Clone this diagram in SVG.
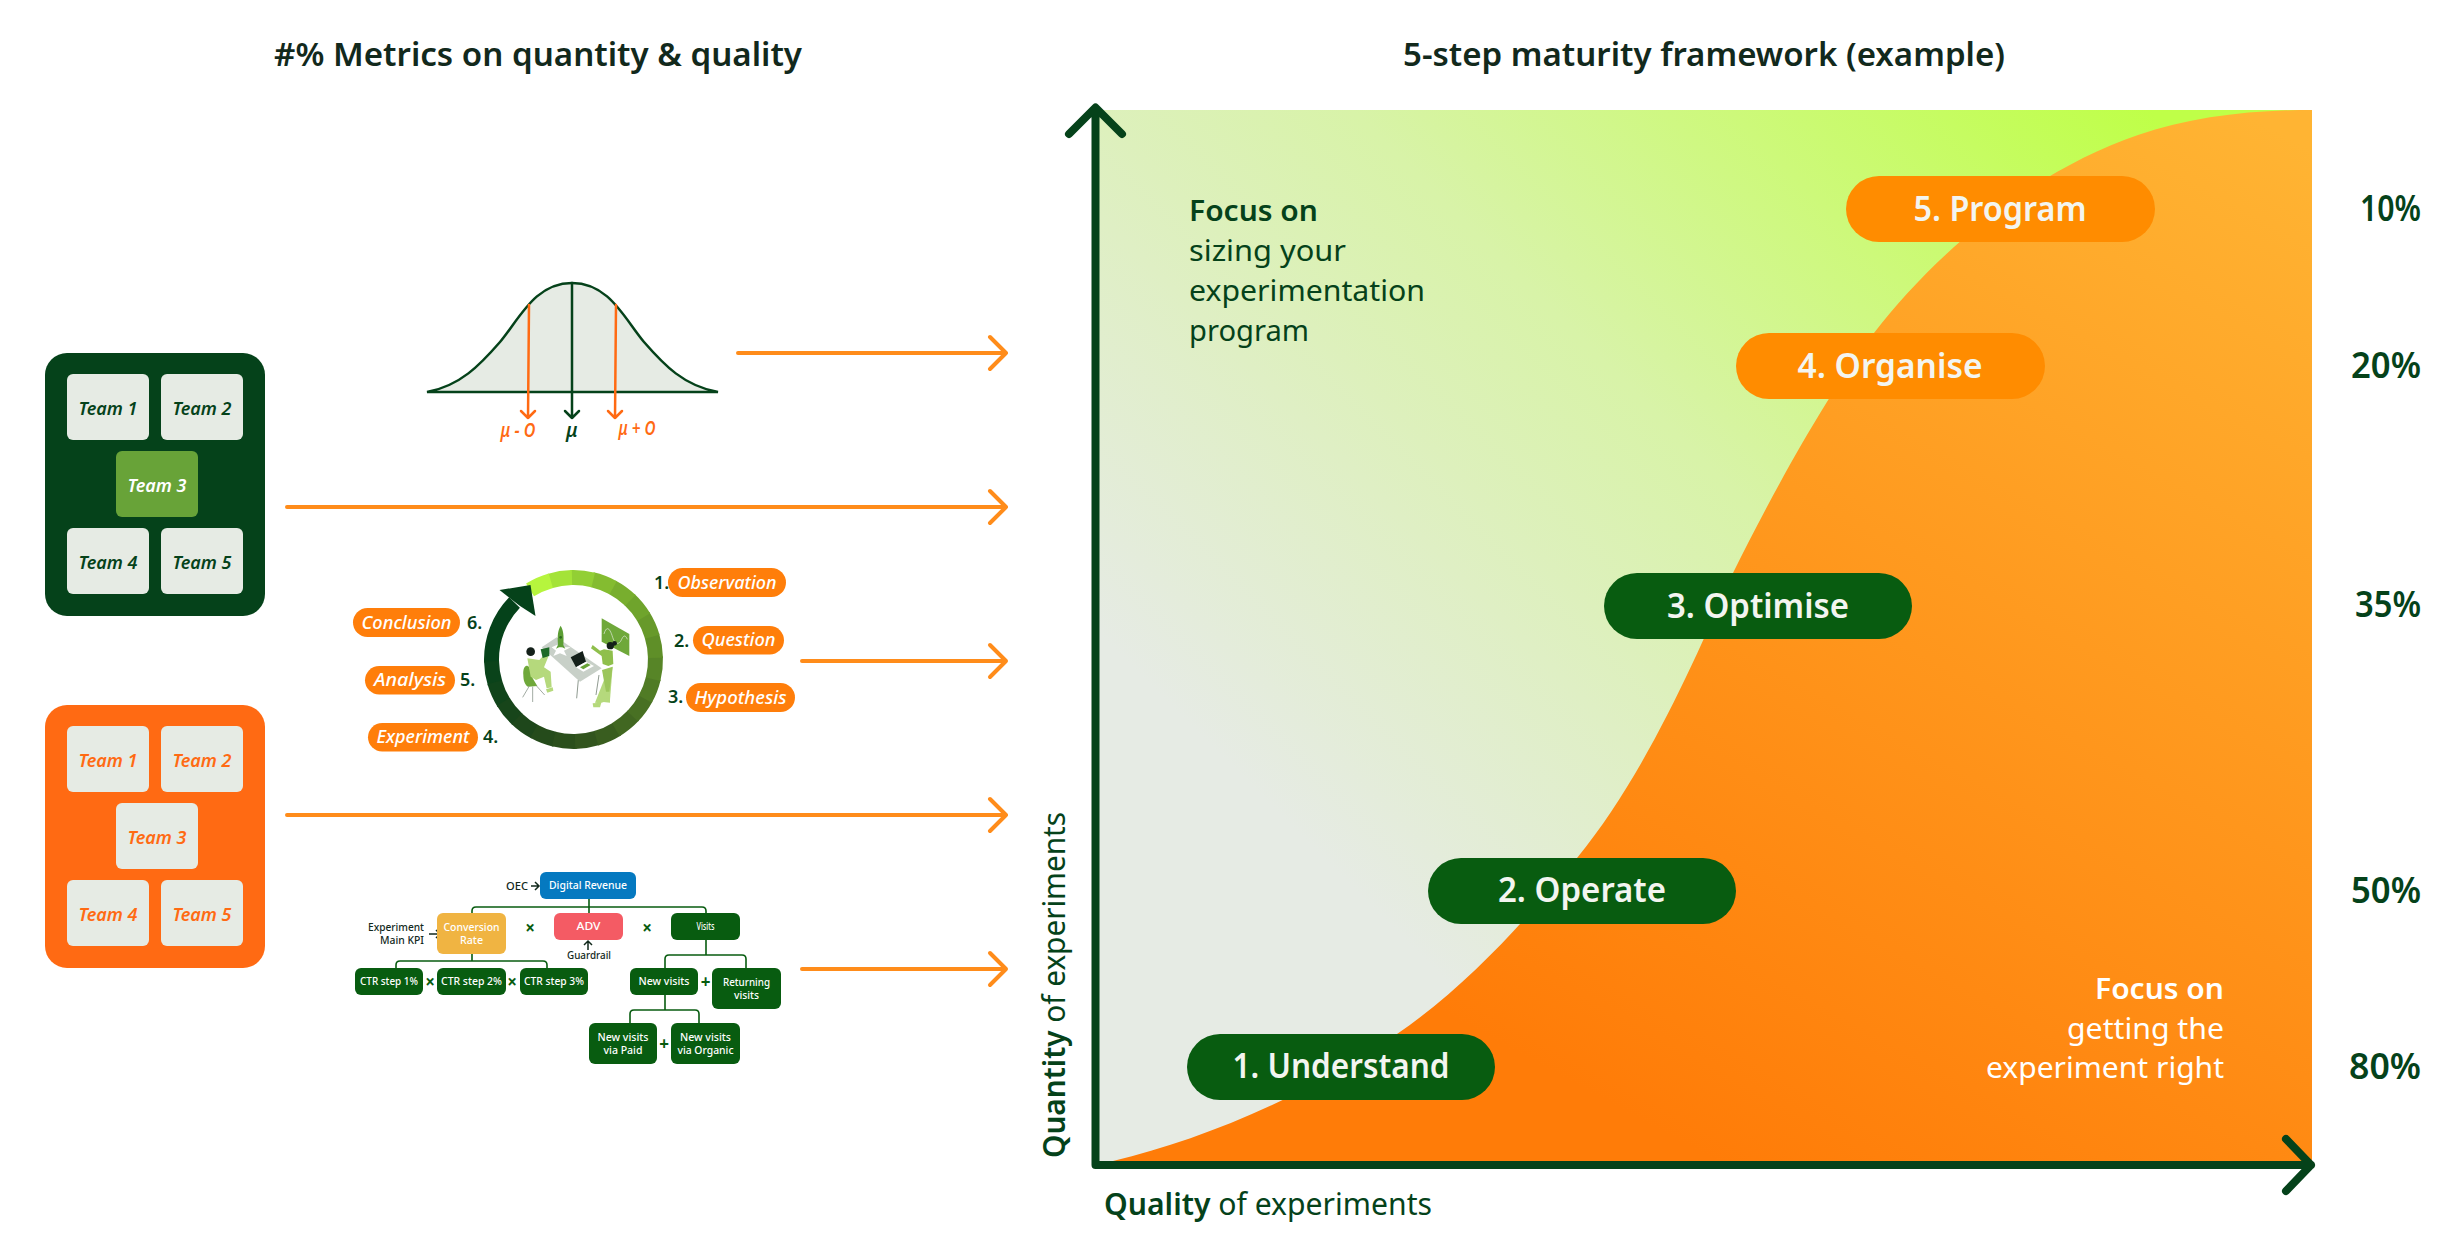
<svg xmlns="http://www.w3.org/2000/svg" width="2464" height="1254" viewBox="0 0 2464 1254">
<style>
text{font-family:"Noto Sans","Open Sans","Liberation Sans",sans-serif}
.dg{fill:#05421A}
.title{font-size:33px;font-weight:600;fill:#12291C;text-anchor:middle}
.tile{fill:#E6EBE4}
.tt{font-size:18px;font-weight:600;font-style:italic;text-anchor:middle}
.tg{fill:#05421A}.to{fill:#FF6A13}
.arrow{fill:none;stroke:#FF8C1A;stroke-width:4;stroke-linecap:round;stroke-linejoin:round}
.pill{font-size:34px;font-weight:600;fill:#F3F5F0;text-anchor:middle}
.pct{font-size:36px;font-weight:600;fill:#05421A;text-anchor:end}
.foc{font-size:29px;fill:#05421A}
.fow{font-size:29px;fill:#FFF;text-anchor:end}
.ax{font-size:30px;fill:#05421A}
.b{font-weight:600}
.cp{fill:#FF7E0A}
.ct{font-size:18px;font-weight:500;font-style:italic;fill:#FFF;text-anchor:middle}
.cn{font-size:18px;font-weight:600;fill:#05421A}
.seg{fill:none;stroke-width:15;stroke-dasharray:16 344}
.tb{fill:#085C10}
.tx{font-size:11.500px;font-weight:500;fill:#FFF;text-anchor:middle}
.tl{font-size:11.500px;font-weight:500;fill:#12291C}
.op{font-size:17px;font-weight:700;fill:#085C10;text-anchor:middle}
.tc{fill:none;stroke:#085C10;stroke-width:1.6}
.ta{fill:none;stroke:#12291C;stroke-width:1.5}
</style>
<defs>
<linearGradient id="bgGrad" gradientUnits="userSpaceOnUse" x1="1100" y1="1160" x2="2150" y2="110">
<stop offset="0.25" stop-color="#E6EBE4"/><stop offset="0.45" stop-color="#DFEFC4"/><stop offset="0.62" stop-color="#D8F3A8"/><stop offset="0.8" stop-color="#CDF97A"/><stop offset="1" stop-color="#BFFF48"/>
</linearGradient>
<linearGradient id="orGrad" gradientUnits="userSpaceOnUse" x1="1750" y1="1180" x2="2312" y2="150">
<stop offset="0" stop-color="#FF7C08"/><stop offset="1" stop-color="#FFB433"/>
</linearGradient>
</defs>

<text class="title" x="538" y="66" textLength="528" lengthAdjust="spacingAndGlyphs">#% Metrics on quantity &amp; quality</text>
<text class="title" x="1704" y="66" textLength="602" lengthAdjust="spacingAndGlyphs">5-step maturity framework (example)</text>

<g id="team-green">
<rect x="45" y="353" width="220" height="263" rx="22" class="dg"/>
<rect x="67" y="374" width="82" height="66" rx="6" class="tile"/><text x="108" y="415" class="tt tg">Team 1</text>
<rect x="161" y="374" width="82" height="66" rx="6" class="tile"/><text x="202" y="415" class="tt tg">Team 2</text>
<rect x="116" y="451" width="82" height="66" rx="6" fill="#68A338"/><text x="157" y="492" class="tt" fill="#FFF">Team 3</text>
<rect x="67" y="528" width="82" height="66" rx="6" class="tile"/><text x="108" y="569" class="tt tg">Team 4</text>
<rect x="161" y="528" width="82" height="66" rx="6" class="tile"/><text x="202" y="569" class="tt tg">Team 5</text>
</g>
<g id="team-orange">
<rect x="45" y="705" width="220" height="263" rx="22" fill="#FF6A13"/>
<rect x="67" y="726" width="82" height="66" rx="6" class="tile"/><text x="108" y="767" class="tt to">Team 1</text>
<rect x="161" y="726" width="82" height="66" rx="6" class="tile"/><text x="202" y="767" class="tt to">Team 2</text>
<rect x="116" y="803" width="82" height="66" rx="6" class="tile"/><text x="157" y="844" class="tt to">Team 3</text>
<rect x="67" y="880" width="82" height="66" rx="6" class="tile"/><text x="108" y="921" class="tt to">Team 4</text>
<rect x="161" y="880" width="82" height="66" rx="6" class="tile"/><text x="202" y="921" class="tt to">Team 5</text>
</g>

<g id="bell-curve">
<path d="M427,392 C460,386 480,365 500,342 C520,318 535,283 572,283 C609,283 624,318 644,342 C664,365 684,386 718,392 Z" fill="#E6EBE4" stroke="#05421A" stroke-width="2.5"/>
<path d="M572,283 V418 M565,411 L572,418 L579,411" fill="none" stroke="#05421A" stroke-width="2.5" stroke-linecap="round" stroke-linejoin="round"/>
<path d="M529,305 L528,418 M521,411 L528,418 L535,411 M616,305 L615,418 M608,411 L615,418 L622,411" fill="none" stroke="#FF6A13" stroke-width="2.5" stroke-linecap="round" stroke-linejoin="round"/>
<text x="518" y="437" font-size="19" font-weight="600" font-style="italic" fill="#FF6A13" text-anchor="middle" textLength="35" lengthAdjust="spacingAndGlyphs">μ - O</text>
<text x="572" y="437" font-size="19" font-weight="600" font-style="italic" fill="#05421A" text-anchor="middle">μ</text>
<text x="637" y="435" font-size="19" font-weight="600" font-style="italic" fill="#FF6A13" text-anchor="middle" textLength="37" lengthAdjust="spacingAndGlyphs">μ + O</text>
</g>

<g id="cycle">
<g>
<circle class="seg" cx="573.5" cy="659.5" r="82" pathLength="360" stroke="#05421A" style="stroke-dasharray:46 314" transform="rotate(178 573.5 659.5)"/>
<circle class="seg" cx="573.5" cy="659.5" r="82" pathLength="360" stroke="#0A431A" transform="rotate(163 573.5 659.5)"/>
<circle class="seg" cx="573.5" cy="659.5" r="82" pathLength="360" stroke="#10441A" transform="rotate(148 573.5 659.5)"/>
<circle class="seg" cx="573.5" cy="659.5" r="82" pathLength="360" stroke="#17451A" transform="rotate(133 573.5 659.5)"/>
<circle class="seg" cx="573.5" cy="659.5" r="82" pathLength="360" stroke="#1E471B" transform="rotate(118 573.5 659.5)"/>
<circle class="seg" cx="573.5" cy="659.5" r="82" pathLength="360" stroke="#254B1B" transform="rotate(103 573.5 659.5)"/>
<circle class="seg" cx="573.5" cy="659.5" r="82" pathLength="360" stroke="#2B4F1C" transform="rotate(88 573.5 659.5)"/>
<circle class="seg" cx="573.5" cy="659.5" r="82" pathLength="360" stroke="#32551E" transform="rotate(73 573.5 659.5)"/>
<circle class="seg" cx="573.5" cy="659.5" r="82" pathLength="360" stroke="#395D1F" transform="rotate(58 573.5 659.5)"/>
<circle class="seg" cx="573.5" cy="659.5" r="82" pathLength="360" stroke="#416721" transform="rotate(43 573.5 659.5)"/>
<circle class="seg" cx="573.5" cy="659.5" r="82" pathLength="360" stroke="#487023" transform="rotate(28 573.5 659.5)"/>
<circle class="seg" cx="573.5" cy="659.5" r="82" pathLength="360" stroke="#507B25" transform="rotate(13 573.5 659.5)"/>
<circle class="seg" cx="573.5" cy="659.5" r="82" pathLength="360" stroke="#578527" transform="rotate(358 573.5 659.5)"/>
<circle class="seg" cx="573.5" cy="659.5" r="82" pathLength="360" stroke="#5F8F28" transform="rotate(343 573.5 659.5)"/>
<circle class="seg" cx="573.5" cy="659.5" r="82" pathLength="360" stroke="#67992A" transform="rotate(328 573.5 659.5)"/>
<circle class="seg" cx="573.5" cy="659.5" r="82" pathLength="360" stroke="#6FA42C" transform="rotate(313 573.5 659.5)"/>
<circle class="seg" cx="573.5" cy="659.5" r="82" pathLength="360" stroke="#78AE2E" transform="rotate(298 573.5 659.5)"/>
<circle class="seg" cx="573.5" cy="659.5" r="82" pathLength="360" stroke="#84BC30" transform="rotate(283 573.5 659.5)"/>
<circle class="seg" cx="573.5" cy="659.5" r="82" pathLength="360" stroke="#92CF34" transform="rotate(268 573.5 659.5)"/>
<circle class="seg" cx="573.5" cy="659.5" r="82" pathLength="360" stroke="#A4E338" transform="rotate(253 573.5 659.5)"/>
<circle class="seg" cx="573.5" cy="659.5" r="82" pathLength="360" stroke="#B6F53D" transform="rotate(238 573.5 659.5)"/>
</g>
<polygon points="499.5,590 530.5,585 535.5,616 520,606" fill="#05421A"/>
<g id="illustration" transform="translate(500,560) scale(0.3333)">
<polygon points="305,175 388,222 388,288 305,245" fill="#6FA83A"/>
<path d="M312,222 C320,195 330,205 338,232 C345,255 358,255 365,238 C372,222 378,228 382,238" fill="none" stroke="#E6EBE4" stroke-width="2"/>
<path d="M235,360 L230,415 M297,345 L288,405" stroke="#8F9A90" stroke-width="3" fill="none"/>
<polygon points="125,262 170,232 305,325 240,365" fill="#C8D0C8"/>
<polygon points="155,262 170,255 185,262 212,262 192,272 200,288 180,280 160,288 168,272" fill="#FFF"/>
<path d="M182,197 C190,210 192,225 190,255 L196,266 L187,262 L177,262 L168,266 L174,255 C172,225 174,210 182,197 Z" fill="#5C9E34"/>
<circle cx="182" cy="232" r="4" fill="#2C6A20"/>
<polygon points="212,292 248,273 258,305 228,322" fill="#14201A"/>
<polygon points="228,322 258,305 282,318 250,335" fill="#FFF"/>
<polygon points="240,322 262,310 272,315 250,328" fill="#68A338"/>
<path d="M322,335 L338,320 L330,420 L300,430 L285,428 Z" fill="#B5D97C"/>
<path d="M306,330 L338,320 L328,395 L318,395 Z" fill="#9CC65C"/>
<path d="M278,255 L300,272 L312,268 L338,272 L340,312 L325,318 L308,312 L305,288 L273,265 Z" fill="#8FBF4C"/>
<circle cx="331" cy="257" r="11" fill="#14201A"/><circle cx="344" cy="250" r="7" fill="#14201A"/>
<polygon points="278,430 304,428 300,442 280,442" fill="#B5D97C"/>
<polygon points="310,414 330,416 330,428 310,426" fill="#B5D97C"/>
<path d="M70,345 C68,322 78,310 88,322 L98,355 L112,378 L84,380 C74,375 70,360 70,345 Z" fill="#6FA83A"/>
<path d="M82,295 L118,300 L132,285 L145,290 L132,322 L152,335 L155,382 L140,385 L132,350 L108,360 L92,350 Z" fill="#B5D97C"/>
<circle cx="92" cy="275" r="13" fill="#14201A"/>
<polygon points="122,268 148,262 148,288 128,294" fill="#1E6B28"/>
<polygon points="138,388 158,382 160,392 142,398" fill="#B5D97C"/>
<path d="M88,378 L68,412 M98,380 L98,426 M108,376 L134,405" stroke="#8F9A90" stroke-width="2.5" fill="none"/>
</g>
</g>
<g id="cycle-labels">
<rect x="668" y="568" width="118" height="29" rx="14.5" class="cp"/><text x="727" y="589" class="ct" textLength="99" lengthAdjust="spacingAndGlyphs">Observation</text><text x="654" y="589" class="cn">1.</text>
<rect x="693" y="626" width="91" height="28.500" rx="14.250" class="cp"/><text x="738.500" y="646" class="ct" textLength="74" lengthAdjust="spacingAndGlyphs">Question</text><text x="674" y="647" class="cn">2.</text>
<rect x="686" y="683" width="109" height="29" rx="14.5" class="cp"/><text x="740.500" y="704" class="ct" textLength="92" lengthAdjust="spacingAndGlyphs">Hypothesis</text><text x="668" y="703" class="cn">3.</text>
<rect x="353" y="608" width="107" height="29" rx="14.5" class="cp"/><text x="406.500" y="629" class="ct" textLength="90" lengthAdjust="spacingAndGlyphs">Conclusion</text><text x="467" y="629" class="cn">6.</text>
<rect x="365" y="666" width="90" height="28.500" rx="14.250" class="cp"/><text x="410" y="686" class="ct" textLength="72" lengthAdjust="spacingAndGlyphs">Analysis</text><text x="460" y="686" class="cn">5.</text>
<rect x="368" y="723" width="110" height="28.500" rx="14.250" class="cp"/><text x="423" y="743" class="ct" textLength="93" lengthAdjust="spacingAndGlyphs">Experiment</text><text x="483" y="743" class="cn">4.</text>
</g>

<g id="tree-connectors">
<path class="tc" d="M589,899 V913 M472,913 V911 Q472,907 476,907 H702 Q706,907 706,911 V913"/>
<path class="tc" d="M472,954 V961 M396,968 V965 Q396,961 400,961 H543 Q547,961 547,965 V968"/>
<path class="tc" d="M706,940 V955 M665,968 V959 Q665,955 669,955 H742 Q746,955 746,959 V968"/>
<path class="tc" d="M665,995 V1010 M630,1023 V1014 Q630,1010 634,1010 H695 Q699,1010 699,1014 V1023"/>
<path class="ta" d="M531,886 H539 M535,882 L539,886 L535,890 M429,934 H440 M436,930 L440,934 L436,938 M588,950 V941 M584,945 L588,941 L592,945"/>
</g>
<g id="tree-nodes">
<rect x="540" y="872" width="96" height="27" rx="6" fill="#0579C0"/><text x="588" y="889" class="tx" textLength="78" lengthAdjust="spacingAndGlyphs">Digital Revenue</text>
<rect x="437" y="913" width="69" height="41" rx="6" fill="#F0B442"/><text x="471.500" y="931" class="tx" textLength="56" lengthAdjust="spacingAndGlyphs">Conversion</text><text x="471.500" y="944" class="tx" textLength="23" lengthAdjust="spacingAndGlyphs">Rate</text>
<rect x="554" y="913" width="69" height="27" rx="6" fill="#F45B64"/><text x="588.500" y="930" class="tx" textLength="24" lengthAdjust="spacingAndGlyphs">ADV</text>
<rect x="671" y="913" width="69" height="27" rx="6" class="tb"/><text x="705.500" y="930" class="tx" textLength="18" lengthAdjust="spacingAndGlyphs">Visits</text>
<rect x="355" y="968" width="68" height="27" rx="6" class="tb"/><text x="389" y="985" class="tx" textLength="58" lengthAdjust="spacingAndGlyphs">CTR step 1%</text>
<rect x="437" y="968" width="69" height="27" rx="6" class="tb"/><text x="471.500" y="985" class="tx" textLength="61" lengthAdjust="spacingAndGlyphs">CTR step 2%</text>
<rect x="520" y="968" width="68" height="27" rx="6" class="tb"/><text x="554" y="985" class="tx" textLength="60" lengthAdjust="spacingAndGlyphs">CTR step 3%</text>
<rect x="630" y="968" width="68" height="27" rx="6" class="tb"/><text x="664" y="985" class="tx" textLength="51" lengthAdjust="spacingAndGlyphs">New visits</text>
<rect x="712" y="968" width="69" height="41" rx="6" class="tb"/><text x="746.500" y="986" class="tx" textLength="47" lengthAdjust="spacingAndGlyphs">Returning</text><text x="746.500" y="999" class="tx" textLength="25" lengthAdjust="spacingAndGlyphs">visits</text>
<rect x="589" y="1023" width="68" height="41" rx="6" class="tb"/><text x="623" y="1041" class="tx" textLength="51" lengthAdjust="spacingAndGlyphs">New visits</text><text x="623" y="1054" class="tx" textLength="39" lengthAdjust="spacingAndGlyphs">via Paid</text>
<rect x="671" y="1023" width="69" height="41" rx="6" class="tb"/><text x="705.500" y="1041" class="tx" textLength="51" lengthAdjust="spacingAndGlyphs">New visits</text><text x="705.500" y="1054" class="tx" textLength="56" lengthAdjust="spacingAndGlyphs">via Organic</text>
<text x="506" y="890" class="tl" textLength="22" lengthAdjust="spacingAndGlyphs">OEC</text>
<text x="424" y="931" class="tl" text-anchor="end" textLength="56" lengthAdjust="spacingAndGlyphs">Experiment</text><text x="424" y="944" class="tl" text-anchor="end" textLength="44" lengthAdjust="spacingAndGlyphs">Main KPI</text>
<text x="589" y="959" class="tl" text-anchor="middle" textLength="44" lengthAdjust="spacingAndGlyphs">Guardrail</text>
<text x="530" y="934" class="op">×</text><text x="647" y="934" class="op">×</text><text x="430" y="988" class="op">×</text><text x="512" y="988" class="op">×</text><text x="705.500" y="988" class="op">+</text><text x="664" y="1050" class="op">+</text>
</g>

<g id="connectors">
<path class="arrow" d="M738,353 H1006 M990,337 L1006,353 L990,369"/>
<path class="arrow" d="M287,507 H1006 M990,491 L1006,507 L990,523"/>
<path class="arrow" d="M802,661 H1006 M990,645 L1006,661 L990,677"/>
<path class="arrow" d="M287,815 H1006 M990,799 L1006,815 L990,831"/>
<path class="arrow" d="M802,969 H1006 M990,953 L1006,969 L990,985"/>
</g>

<g id="chart">
<rect x="1095" y="110" width="1217" height="1055" fill="url(#bgGrad)"/>
<path d="M1113,1161 C1200,1140 1300,1100 1397,1034 C1470,984 1530,915 1577,858 C1645,775 1695,660 1733,573 C1775,488 1830,390 1874,333 C1935,254 2030,172 2138,135 C2190,117 2250,110 2312,110 V1165 H1113 Z" fill="url(#orGrad)"/>
<path d="M1069,134 L1095.500,107.500 L1122,134 M1095.500,108 V1165 H2311 M2286,1139 L2311,1165 L2286,1191" fill="none" stroke="#05421A" stroke-width="8" stroke-linecap="round" stroke-linejoin="round"/>
</g>
<g id="chart-text">
<text class="foc b" x="1189" y="221" textLength="129" lengthAdjust="spacingAndGlyphs">Focus on</text>
<text class="foc" x="1189" y="261" textLength="157" lengthAdjust="spacingAndGlyphs">sizing your</text>
<text class="foc" x="1189" y="301" textLength="236" lengthAdjust="spacingAndGlyphs">experimentation</text>
<text class="foc" x="1189" y="341" textLength="120" lengthAdjust="spacingAndGlyphs">program</text>
<text class="fow" x="2224" y="999" font-weight="600" textLength="129" lengthAdjust="spacingAndGlyphs">Focus on</text>
<text class="fow" x="2224" y="1039" textLength="157" lengthAdjust="spacingAndGlyphs">getting the</text>
<text class="fow" x="2224" y="1078" textLength="238" lengthAdjust="spacingAndGlyphs">experiment right</text>
<text class="ax" x="1104" y="1215" textLength="328" lengthAdjust="spacingAndGlyphs"><tspan class="b">Quality</tspan> of experiments</text>
<text class="ax" transform="translate(1065,1158) rotate(-90)" textLength="346" lengthAdjust="spacingAndGlyphs"><tspan class="b">Quantity</tspan> of experiments</text>
<text class="pct" x="2421" y="221" textLength="61" lengthAdjust="spacingAndGlyphs">10%</text>
<text class="pct" x="2421" y="378" textLength="70" lengthAdjust="spacingAndGlyphs">20%</text>
<text class="pct" x="2421" y="617" textLength="66" lengthAdjust="spacingAndGlyphs">35%</text>
<text class="pct" x="2421" y="903" textLength="70" lengthAdjust="spacingAndGlyphs">50%</text>
<text class="pct" x="2421" y="1079" textLength="72" lengthAdjust="spacingAndGlyphs">80%</text>
</g>
<g id="step-1"><rect x="1187" y="1034" width="308" height="66" rx="33" fill="#085C10"/><text class="pill" x="1341" y="1078" textLength="217" lengthAdjust="spacingAndGlyphs">1. Understand</text></g>
<g id="step-2"><rect x="1428" y="858" width="308" height="66" rx="33" fill="#085C10"/><text class="pill" x="1582" y="902" textLength="168" lengthAdjust="spacingAndGlyphs">2. Operate</text></g>
<g id="step-3"><rect x="1604" y="573" width="308" height="66" rx="33" fill="#085C10"/><text class="pill" x="1758" y="618" textLength="182" lengthAdjust="spacingAndGlyphs">3. Optimise</text></g>
<g id="step-4"><rect x="1736" y="333" width="309" height="66" rx="33" fill="#FF8C00"/><text class="pill" x="1890" y="378" textLength="185" lengthAdjust="spacingAndGlyphs">4. Organise</text></g>
<g id="step-5"><rect x="1846" y="176" width="309" height="66" rx="33" fill="#FF8C00"/><text class="pill" x="2000" y="221" textLength="173" lengthAdjust="spacingAndGlyphs">5. Program</text></g>
</svg>
